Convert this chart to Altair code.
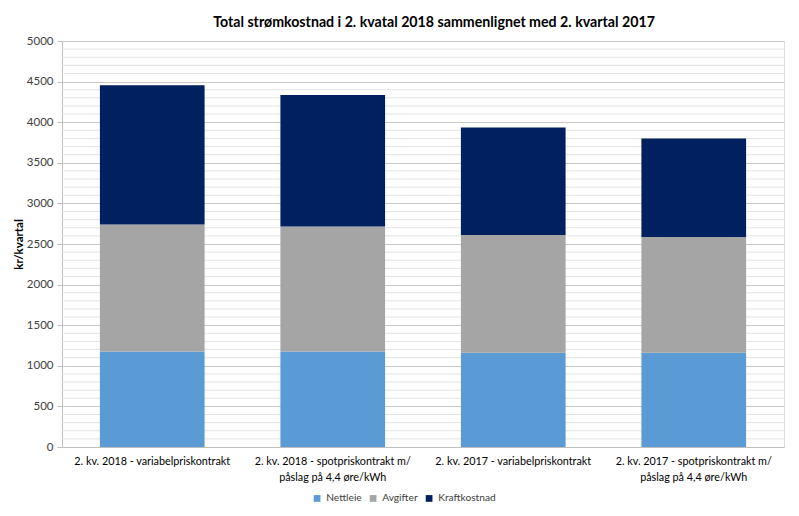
import altair as alt
import pandas as pd

categories = [
    "2. kv. 2018  - variabelpriskontrakt",
    "2. kv. 2018  - spotpriskontrakt m/|påslag på 4,4 øre/kWh",
    "2. kv. 2017  - variabelpriskontrakt",
    "2. kv. 2017  - spotpriskontrakt m/|påslag på 4,4 øre/kWh",
]
series = ["Nettleie", "Avgifter", "Kraftkostnad"]
nettleie = [1175, 1175, 1160, 1160]
avgifter = [1565, 1540, 1450, 1425]
kraftkostnad = [1715, 1620, 1325, 1215]
colors = ["#5B9BD5", "#A5A5A5", "#002060"]

rows = []
for vals, s, o in zip([nettleie, avgifter, kraftkostnad], series, range(3)):
    for c, v in zip(categories, vals):
        rows.append({"Kategori": c, "Serie": s, "Verdi": v, "order": o})
df = pd.DataFrame(rows)

minor = pd.DataFrame({"Verdi": [v for v in range(100, 5001, 100) if v % 500 != 0]})

FONT = "Lato"

y_scale = alt.Scale(domain=[0, 5000])
y_axis = alt.Axis(
    values=list(range(0, 5001, 500)),
    format="d",
    labelFont=FONT,
    labelFontSize=11.5,
    labelColor="#404040",
    titleFont=FONT,
    titleFontSize=11.5,
    titleFontWeight="bold",
    titleColor="#000000",
    titleX=-38,
    titleY=203,
    tickSize=5,
    tickColor="#BFBFBF",
    domainColor="#BFBFBF",
    gridColor="#C8C8C8",
    labelPadding=4,
)

grid = alt.Chart(minor).mark_rule(color="#E3E3E3", strokeWidth=1).encode(
    y=alt.Y("Verdi:Q", scale=y_scale, title="kr/kvartal", axis=y_axis)
)

bars = alt.Chart(df).mark_bar().encode(
    x=alt.X(
        "Kategori:N",
        sort=categories,
        title=None,
        scale=alt.Scale(paddingInner=0.42, paddingOuter=0.21),
        axis=alt.Axis(
            labelAngle=0,
            labelExpr="split(datum.label, '|')",
            labelFont=FONT,
            labelFontSize=10.8,
            labelLineHeight=16,
            labelColor="#000000",
            labelPadding=8,
            labelLimit=200,
            ticks=False,
            domainColor="#BFBFBF",
        ),
    ),
    y=alt.Y("Verdi:Q", stack="zero", scale=y_scale, title="kr/kvartal", axis=y_axis),
    color=alt.Color(
        "Serie:N",
        sort=series,
        scale=alt.Scale(domain=series, range=colors),
        legend=alt.Legend(
            title=None,
            orient="none",
            direction="horizontal",
            legendX=250,
            legendY=452,
            symbolType="square",
            symbolSize=45,
            symbolStrokeWidth=0,
            labelFont=FONT,
            labelFontSize=10.2,
            labelColor="#404040",
            labelOffset=4,
            columnPadding=6,
        ),
    ),
    order=alt.Order("order:Q"),
)

chart = (
    alt.layer(grid, bars)
    .properties(
        width=722,
        height=406,
        autosize=alt.AutoSizeParams(type="none"),
        padding={"left": 54, "top": 33, "right": 7, "bottom": 68},
        title=alt.TitleParams(
            "Total strømkostnad i 2. kvatal 2018 sammenlignet med 2. kvartal 2017",
            font=FONT,
            fontSize=14.2,
            fontWeight="bold",
            color="#000000",
            anchor="middle",
            dx=11,
            offset=5,
        ),
    )
    .configure_view(stroke=None)
    .configure(background="white")
)

chart.save("out.html", embed_options={"renderer": "svg", "actions": False})
